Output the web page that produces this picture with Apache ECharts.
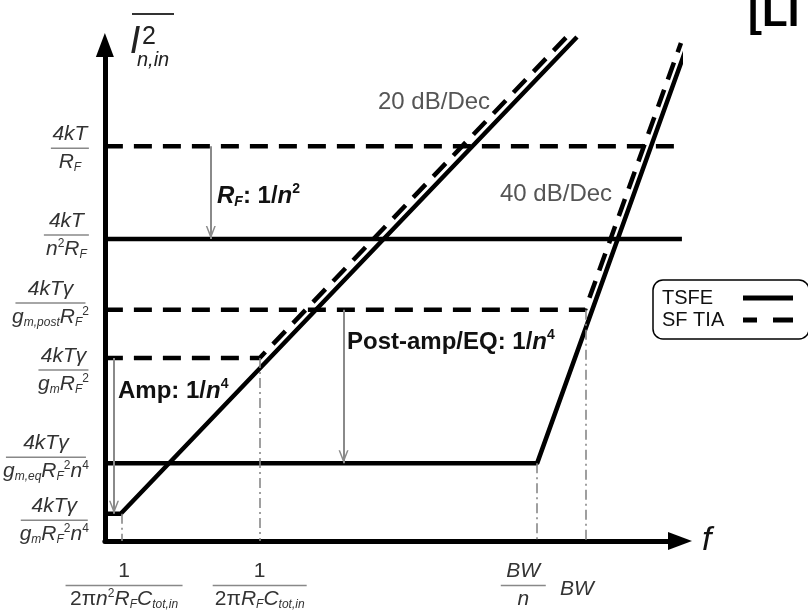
<!DOCTYPE html>
<html>
<head>
<meta charset="utf-8">
<script src="https://cdn.jsdelivr.net/npm/echarts@6/dist/echarts.min.js"></script>
<style>html,body{margin:0;padding:0;background:#fff}#c{width:808px;height:615px}</style>
</head>
<body>
<div id="c"></div>
<script>
// Abstract log-log units: x = frequency (0..12), y = input-referred noise (0..10)
const xMax = 12, yMax = 10;

// TSFE (solid) polylines [x, y]
const tsfeAmp  = [[0, 0.55], [0.33, 0.55], [9.85, 10.16]];
const tsfePost = [[0, 1.57], [9.02, 1.57], [12.17, 10.04]];
const tsfeRF   = [[0, 6.09], [12.04, 6.09]];
// SF TIA (dashed) polylines [x, y]
const sfAmp  = [[0, 3.69], [3.23, 3.69], [9.71, 10.24]];
const sfPost = [[0, 4.66], [10.02, 4.66], [12.02, 10.04]];
const sfRF   = [[0, 7.96], [12.06, 7.96]];

// gray reduction arrows: x, from y, to y
const arrowX    = [2.21, 0.19, 4.98];
const arrowFrom = [7.96, 3.69, 4.66];
const arrowTo   = [6.09, 0.55, 1.57];

// dash-dot corner-frequency markers: x, top y (down to the f axis)
const markerX = [0.35, 3.23, 9.02, 10.04];
const markerY = [0.55, 3.69, 1.57, 4.66];

// y tick labels (fractions): numerator, denominator markup
const yLabelPos = [7.92, 6.17, 4.80, 3.45, 1.69, 0.42];
const yLabelNum = ['4kT', '4kT', '4kTγ', '4kTγ', '4kTγ', '4kTγ'];
const yLabelDen = [
  '{m|R}{s|F}',
  '{m|n}{p|2}{m|R}{s|F}',
  '{m|g}{s|m,post}{m|R}{s|F}{p|2}',
  '{m|g}{s|m}{m|R}{s|F}{p|2}',
  '{m|g}{s|m,eq}{m|R}{s|F}{p|2}{m|n}{p|4}',
  '{m|g}{s|m}{m|R}{s|F}{p|2}{m|n}{p|4}'
];
// x tick labels
const xLabelPos = [0.40, 3.23, 8.73, 9.85];
const xLabelNum = ['{u|1}', '{u|1}', '{m|BW}', null];
const xLabelDen = [
  '{u|2π}{m|n}{p|2}{m|R}{s|F}{m|C}{s|tot,in}',
  '{u|2π}{m|R}{s|F}{m|C}{s|tot,in}',
  '{m|n}',
  '{m|BW}'
];

const legendNames = ['TSFE', 'SF TIA'];

// ---------- styles ----------
const FONT = "'Liberation Sans', Arial, Helvetica, sans-serif";
const LC = '#333';
const yBarW = [38, 45, 70, 50, 80, 67];
const xBarW = [117, 94, 45, 0];

function rb(size, extra) {
  return Object.assign({fontFamily: FONT, fontSize: size, color: LC, align: 'center', lineHeight: 23}, extra || {});
}
const rich = {
  m: rb(21, {fontStyle: 'italic'}),
  u: rb(21),
  s: rb(12, {fontStyle: 'italic', lineHeight: 12, verticalAlign: 'bottom'}),
  p: rb(12, {lineHeight: 12, verticalAlign: 'top'}),
  gap: rb(4, {lineHeight: 18})
};
yBarW.forEach((w, i) => { rich['hy' + i] = {width: w, height: 1.5, lineHeight: 5, fontSize: 4, backgroundColor: '#888', align: 'center'}; });
xBarW.forEach((w, i) => { rich['hx' + i] = {width: w, height: 1.5, lineHeight: 5, fontSize: 4, backgroundColor: '#888', align: 'center'}; });

function findIdx(arr, v) { let b = 0; arr.forEach((a, i) => { if (Math.abs(a - v) < Math.abs(arr[b] - v)) b = i; }); return b; }

const solid = {color: '#000', width: 4.5, type: 'solid'};
const dashed = {color: '#000', width: 4.5, type: [18, 11]};
function seg(name, data, ls) {
  return {type: 'line', name: name, data: data, symbol: 'none', clip: false, silent: true,
          lineStyle: ls, itemStyle: {color: '#000'}, emphasis: {disabled: true}, z: 3};
}
const chevron = 'path://M5,13 L10,26 L8.5,26 L5,17.2 L1.5,26 L0,26 Z M5,0 L5.01,0.01';
const iconSolid = 'path://M0,0 L50,0 L50,5 L0,5 Z';
const iconDashed = 'path://M0,0 L14,0 L14,5 L0,5 Z M30,0 L50,0 L50,5 L30,5 Z';

function boldRich(size) {
  return {
    b: {fontFamily: FONT, fontSize: size, fontWeight: 'bold', fill: '#111', lineHeight: 27},
    bi: {fontFamily: FONT, fontSize: size, fontWeight: 'bold', fontStyle: 'italic', fill: '#111', lineHeight: 27},
    bs: {fontFamily: FONT, fontSize: 14, fontWeight: 'bold', fontStyle: 'italic', fill: '#111', lineHeight: 13, verticalAlign: 'bottom'},
    bp: {fontFamily: FONT, fontSize: 14, fontWeight: 'bold', fill: '#111', lineHeight: 13, verticalAlign: 'top'}
  };
}

const chart = echarts.init(document.getElementById('c'), null, {renderer: 'canvas'});
chart.setOption({
  animation: false,
  backgroundColor: '#fff',
  grid: {left: 104, right: 128, top: 45, bottom: 74},
  xAxis: {
    type: 'value', min: 0, max: xMax,
    name: 'f', nameLocation: 'end', nameGap: 22,
    nameTextStyle: {fontFamily: FONT, fontSize: 34, fontStyle: 'italic', color: '#111', verticalAlign: 'middle', padding: [0, 0, 8, 0]},
    axisLine: {show: true, symbol: ['none', 'triangle'], symbolSize: [18, 24], lineStyle: {color: '#000', width: 5}},
    axisTick: {show: false}, splitLine: {show: false},
    axisLabel: {
      customValues: xLabelPos, margin: 19, rich: rich,
      formatter: function (v) {
        const i = findIdx(xLabelPos, v);
        if (xLabelNum[i] === null) return '{gap| }\n' + xLabelDen[i];
        return xLabelNum[i] + '\n{hx' + i + '| }\n' + xLabelDen[i];
      }
    }
  },
  yAxis: {
    type: 'value', min: 0, max: yMax,
    axisLine: {show: true, symbol: ['none', 'triangle'], symbolSize: [18, 24], lineStyle: {color: '#000', width: 5}},
    axisTick: {show: false}, splitLine: {show: false},
    axisLabel: {
      customValues: yLabelPos, margin: 16, rich: rich,
      formatter: function (v) {
        const i = findIdx(yLabelPos, v);
        return '{m|' + yLabelNum[i] + '}\n{hy' + i + '| }\n' + yLabelDen[i];
      }
    }
  },
  legend: {
    data: [{name: legendNames[0], icon: iconSolid}, {name: legendNames[1], icon: iconDashed}],
    orient: 'vertical', left: 653, top: 280, align: 'right',
    itemWidth: 50, itemHeight: 5, itemGap: 2,
    padding: [8, 16, 9, 9],
    borderColor: '#000', borderWidth: 1.5, borderRadius: 10, backgroundColor: '#fff',
    selectedMode: false,
    itemStyle: {color: '#000', borderWidth: 0},
    formatter: function (n) { return '{t|' + n + '}'; },
    textStyle: {rich: {t: {fontFamily: FONT, fontSize: 20, color: '#111', width: 76, align: 'left', lineHeight: 24}}}
  },
  series: [
    {type: 'line', name: 'markers', data: [], silent: true, z: 1,
     markLine: {silent: true, symbol: ['none', 'none'], label: {show: false}, emphasis: {disabled: true},
       lineStyle: {color: '#888', width: 1.6, type: [10, 4, 2, 4]},
       data: markerX.map((x, i) => [{coord: [x, markerY[i]]}, {coord: [x, 0]}])}},
    {type: 'line', name: 'arrows', data: [], silent: true, z: 2,
     markLine: {silent: true, symbol: ['none', chevron], symbolSize: [10, 26], label: {show: false}, emphasis: {disabled: true},
       lineStyle: {color: '#8a8a8a', width: 2, type: 'solid'},
       data: arrowX.map((x, i) => [{coord: [x, arrowFrom[i]]}, {coord: [x, arrowTo[i]]}])}},
    seg('TSFE', tsfeAmp, solid),
    seg('SF TIA', sfAmp, dashed),
    seg('TSFE', tsfePost, solid),
    seg('SF TIA', sfPost, dashed),
    seg('TSFE', tsfeRF, solid),
    seg('SF TIA', sfRF, dashed)
  ],
  graphic: [
    {type: 'line', shape: {x1: 132, y1: 14, x2: 174, y2: 14}, style: {stroke: '#333', lineWidth: 2}},
    {type: 'text', x: 135, y: 42, style: {text: 'I', fontFamily: FONT, fontSize: 38, fontStyle: 'italic', fill: '#222', align: 'center', verticalAlign: 'middle'}},
    {type: 'text', x: 149, y: 37, style: {text: '2', fontFamily: FONT, fontSize: 25, fill: '#222', align: 'center', verticalAlign: 'middle'}},
    {type: 'text', x: 137, y: 60, style: {text: 'n,in', fontFamily: FONT, fontSize: 20, fontStyle: 'italic', fill: '#222', align: 'left', verticalAlign: 'middle'}},
    {type: 'text', x: 748, y: 14, style: {text: '[LI', fontFamily: FONT, fontSize: 42, fontWeight: 'bold', fill: '#000', align: 'left', verticalAlign: 'middle'}},
    {type: 'text', x: 378, y: 102, style: {text: '20 dB/Dec', fontFamily: FONT, fontSize: 24, fill: '#555', align: 'left', verticalAlign: 'middle'}},
    {type: 'text', x: 500, y: 194, style: {text: '40 dB/Dec', fontFamily: FONT, fontSize: 24, fill: '#555', align: 'left', verticalAlign: 'middle'}},
    {type: 'text', x: 217, y: 196, style: {text: '{bi|R}{bs|F}{b|: 1/}{bi|n}{bp|2}', align: 'left', verticalAlign: 'middle', rich: boldRich(24)}},
    {type: 'text', x: 347, y: 342, style: {text: '{b|Post-amp/EQ: 1/}{bi|n}{bp|4}', align: 'left', verticalAlign: 'middle', rich: boldRich(24)}},
    {type: 'text', x: 118, y: 391, style: {text: '{b|Amp: 1/}{bi|n}{bp|4}', align: 'left', verticalAlign: 'middle', rich: boldRich(24)}}
  ]
});
</script>
</body>
</html>
